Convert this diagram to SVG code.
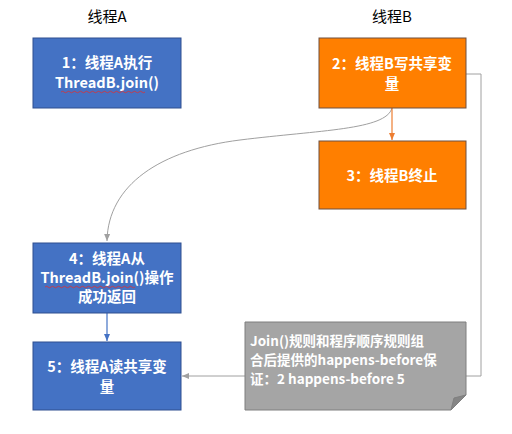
<svg xmlns="http://www.w3.org/2000/svg" width="512" height="434" viewBox="0 0 512 434">
<style>
.title{font-family:"Noto Sans CJK SC","Liberation Sans",sans-serif;font-size:15px;fill:#000;text-anchor:middle}
.lbl{font-family:"Noto Sans CJK SC","Liberation Sans",sans-serif;font-size:14.5px;font-weight:bold;fill:#fff;text-anchor:middle}
.note{font-family:"Noto Sans CJK SC","Liberation Sans",sans-serif;font-size:13.5px;font-weight:bold;fill:#fff}
.blue{fill:#4472c4;stroke:#2f4f8f;stroke-width:1}
.orange{fill:#ff7f00;stroke:#6e5040;stroke-width:1}
.wavy{fill:none;stroke:#e03030;stroke-width:0.8}
</style>
<defs>
<marker id="ag" markerWidth="8" markerHeight="8" refX="7" refY="4" orient="auto" markerUnits="userSpaceOnUse"><path d="M0,1 L7,4 L0,7 z" fill="#a0a0a0"/></marker>
<marker id="ao" markerWidth="8" markerHeight="8" refX="7" refY="4" orient="auto" markerUnits="userSpaceOnUse"><path d="M0,1 L7,4 L0,7 z" fill="#ed7d31"/></marker>
<marker id="ab" markerWidth="8" markerHeight="8" refX="7" refY="4" orient="auto" markerUnits="userSpaceOnUse"><path d="M0,1 L7,4 L0,7 z" fill="#4472c4"/></marker>
</defs>
<rect width="512" height="434" fill="#fff"/>
<text class="title" x="107" y="22">线程A</text>
<text class="title" x="392" y="22">线程B</text>
<g id="connectors">
<path d="M392,108 C386,130 320,130 240,140 C160,150 108,185 107,241" fill="none" stroke="#a0a0a0" stroke-width="1" marker-end="url(#ag)"/>
<line x1="392" y1="108" x2="392" y2="140" stroke="#ed7d31" stroke-width="1.2" marker-end="url(#ao)"/>
<line x1="107" y1="313" x2="107" y2="341" stroke="#4472c4" stroke-width="1.2" marker-end="url(#ab)"/>
<path d="M466,74 H481 V376 H182" fill="none" stroke="#a0a0a0" stroke-width="1" marker-end="url(#ag)"/>
</g>
<g id="n1">
<rect class="blue" x="33" y="38" width="148" height="70"/>
<text class="lbl" x="107" y="68">1：线程A执行</text>
<text class="lbl" x="107" y="88">ThreadB.join()</text>
<path class="wavy" d="M61,92 q1.5,-1.5 3,0 t3,0 t3,0 t3,0 t3,0 t3,0 t3,0 t3,0 t3,0 t3,0 t3,0 t3,0 t3,0 t3,0 t3,0 t3,0 t3,0 t3,0 t3,0 t3,0 t3,0 t3,0 t3,0 t3,0 t3,0 t3,0 t3,0 t3,0"/>
</g>
<g id="n2">
<rect class="orange" x="319" y="38" width="147" height="70"/>
<text class="lbl" x="392" y="69">2：线程B写共享变</text>
<text class="lbl" x="392" y="89">量</text>
</g>
<g id="n3">
<rect class="orange" x="319" y="141" width="147" height="68"/>
<text class="lbl" x="392" y="181">3：线程B终止</text>
</g>
<g id="n4">
<rect class="blue" x="33" y="243" width="148" height="70"/>
<text class="lbl" x="107" y="264">4：线程A从</text>
<text class="lbl" x="107" y="283">ThreadB.join()操作</text>
<text class="lbl" x="107" y="302">成功返回</text>
<path class="wavy" d="M45,287 q1.5,-1.5 3,0 t3,0 t3,0 t3,0 t3,0 t3,0 t3,0 t3,0 t3,0 t3,0 t3,0 t3,0 t3,0 t3,0 t3,0 t3,0 t3,0 t3,0 t3,0 t3,0 t3,0 t3,0 t3,0 t3,0 t3,0 t3,0 t3,0 t3,0 t3,0 t3,0"/>
</g>
<g id="n5">
<rect class="blue" x="33" y="342" width="148" height="68"/>
<text class="lbl" x="107" y="372">5：线程A读共享变</text>
<text class="lbl" x="107" y="392">量</text>
</g>
<g id="note">
<path d="M245,322 H466 V395 L451,410 H245 Z" fill="#a5a5a5" stroke="#7f7f7f" stroke-width="1"/>
<path d="M451,410 L454,398 L466,395 Z" fill="#858585" stroke="#7f7f7f" stroke-width="1"/>
<text class="note" x="250" y="346">Join()规则和程序顺序规则组</text>
<text class="note" x="250" y="365">合后提供的happens-before保</text>
<text class="note" x="250" y="384">证：2 happens-before 5</text>
</g>
</svg>
